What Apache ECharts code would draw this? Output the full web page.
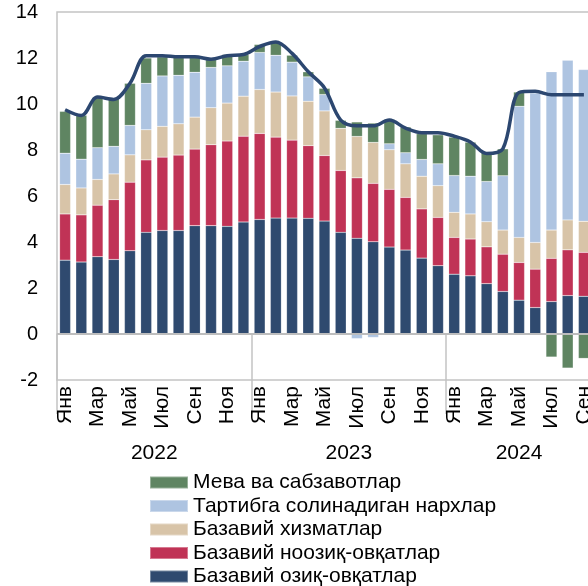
<!DOCTYPE html>
<html>
<head>
<meta charset="utf-8">
<script src="https://cdn.jsdelivr.net/npm/echarts@6/dist/echarts.min.js"></script>
<style>
  html, body { margin: 0; padding: 0; background: #fff; }
  #main { width: 588px; height: 586px; }
</style>
</head>
<body>
<div id="main"></div>
<script>
// oylar va yillar
var monthNames = ['Янв', 'Фев', 'Мар', 'Апр', 'Май', 'Июн', 'Июл', 'Авг', 'Сен', 'Окт', 'Ноя', 'Дек'];
var years = ['2022', '2023', '2024'];
var monthsPerYear = [12, 12, 9];

var yTicks = [-2, 0, 2, 4, 6, 8, 10, 12, 14];

// ulushlar (2022 yanv - 2024 sen)
var ozik = [3.21, 3.13, 3.36, 3.24, 3.62, 4.42, 4.50, 4.50, 4.71, 4.71, 4.68, 4.87,
            4.98, 5.04, 5.04, 5.03, 4.91, 4.42, 4.16, 4.01, 3.78, 3.65, 3.30, 2.97,
            2.60, 2.53, 2.19, 1.85, 1.47, 1.15, 1.41, 1.67, 1.64];
var noozik = [2.01, 2.05, 2.24, 2.60, 2.98, 3.15, 3.19, 3.28, 3.33, 3.52, 3.71, 3.73,
              3.74, 3.52, 3.39, 3.16, 2.85, 2.69, 2.63, 2.54, 2.51, 2.29, 2.14, 2.10,
              1.60, 1.60, 1.60, 1.62, 1.64, 1.67, 1.88, 1.99, 1.91];
var xizmat = [1.28, 1.17, 1.12, 1.12, 1.19, 1.31, 1.34, 1.36, 1.39, 1.61, 1.65, 1.74,
              1.91, 1.96, 1.92, 1.93, 1.94, 1.83, 1.80, 1.78, 1.72, 1.46, 1.42, 1.38,
              1.09, 1.09, 1.09, 1.05, 1.09, 1.16, 1.23, 1.30, 1.35];
var tartib = [1.36, 1.25, 1.38, 1.20, 1.28, 2.02, 2.19, 2.11, 1.95, 1.75, 1.62, 1.52,
              1.61, 1.60, 1.47, 1.06, 0.71, 0.00, -0.20, -0.15, 0.26, 0.48, 0.73, 0.95,
              1.60, 1.64, 1.75, 2.36, 5.70, 6.50, 6.88, 6.94, 6.60];
var meva = [1.82, 1.91, 2.18, 2.08, 1.83, 1.10, 0.83, 0.77, 0.64, 0.35, 0.49, 0.29,
            0.35, 0.58, 0.30, 0.22, 0.27, 0.35, 0.63, 0.84, 1.06, 1.12, 1.12, 1.26,
            1.67, 1.48, 1.28, 1.17, 0.62, 0.09, -1.00, -1.48, -1.06];
var inflyatsiya = [9.75, 9.5, 10.3, 10.2, 10.9, 12.1, 12.1, 12.05, 12.05, 11.95, 12.1, 12.15,
                   12.5, 12.7, 12.2, 11.4, 10.7, 9.3, 9.05, 9.05, 9.3, 8.95, 8.75, 8.75,
                   8.6, 8.35, 7.85, 8.05, 10.5, 10.55, 10.4, 10.4, 10.4];

var names = ['Базавий озиқ-овқатлар', 'Базавий ноозиқ-овқатлар', 'Базавий хизматлар',
             'Тартибга солинадиган нархлар', 'Мева ва сабзавотлар'];
var colors = ['#2f4a6f', '#c03356', '#d8c4a8', '#aec4e1', '#5f8562'];
var stacks = [ozik, noozik, xizmat, tartib, meva];

var categories = [];
years.forEach(function (y, i) {
    for (var m = 0; m < monthsPerYear[i]; m++) categories.push(monthNames[m]);
});
var total = categories.length;

// yil nomlari markazlari
var yearLabel = {};
var start = 0;
years.forEach(function (y, i) {
    yearLabel[(start + monthsPerYear[i] / 2).toFixed(1)] = y;
    start += monthsPerYear[i];
});

var font = 'Liberation Sans, Arial, sans-serif';

var series = stacks.map(function (d, i) {
    var s = {
        name: names[i],
        type: 'bar',
        stack: 'cpi',
        barWidth: 11,
        data: d,
        itemStyle: { color: colors[i], borderColor: 'rgba(255,255,255,0.35)', borderWidth: 0.5 },
        emphasis: { disabled: true }
    };
    if (i === 0) {
        s.markLine = {
            silent: true,
            symbol: 'none',
            label: { show: false },
            lineStyle: { color: '#bdbdbd', width: 2, type: 'solid' },
            data: [{ yAxis: 0 }]
        };
    }
    return s;
});
series.push({
    name: 'Инфляция',
    type: 'line',
    data: inflyatsiya,
    smooth: 0.35,
    symbol: 'none',
    lineStyle: { color: '#2c4770', width: 3.5 },
    z: 5
});

// legend ikki qismga (balandlikka sig'ishi uchun)
var legendNames = names.slice().reverse();
var legendBase = {
    orient: 'vertical',
    left: 149,
    padding: 0,
    itemWidth: 38, itemHeight: 12, itemGap: 2.5,
    icon: 'rect',
    textStyle: { fontFamily: font, fontSize: 21, color: '#000', lineHeight: 21 }
};

var myChart = echarts.init(document.getElementById('main'));
var option = {
    animation: false,
    grid: {
        left: 57, top: 12, width: 535, bottom: 206,
        outerBoundsMode: 'none',
        show: true, borderColor: '#c4c4c4', borderWidth: 1.5
    },
    legend: [
        Object.assign({}, legendBase, { top: 472, data: legendNames.slice(0, 4) }),
        Object.assign({}, legendBase, { top: 472 + 4 * 23.5, data: legendNames.slice(4) })
    ],
    xAxis: [{
        type: 'category',
        data: categories,
        boundaryGap: true,
        axisLine: { show: true, lineStyle: { color: '#c4c4c4', width: 1.5 } },
        axisTick: {
            show: true, length: 80,
            interval: function (i) { return i % 12 === 0; },
            lineStyle: { color: '#c4c4c4', width: 1.5 }
        },
        axisLabel: {
            interval: 1, rotate: 90, margin: 6,
            fontFamily: font, fontSize: 21, color: '#000'
        },
        splitLine: { show: false }
    }, {
        type: 'value',
        position: 'bottom',
        min: 0, max: total, interval: 0.5,
        axisLine: { show: false },
        axisTick: { show: false },
        splitLine: { show: false },
        axisLabel: {
            margin: 63,
            fontFamily: font, fontSize: 21, color: '#000',
            formatter: function (v) { return yearLabel[v.toFixed(1)] || ''; }
        }
    }],
    yAxis: {
        type: 'value',
        min: yTicks[0], max: yTicks[yTicks.length - 1], interval: 2,
        axisLine: { show: false },
        axisTick: { show: false },
        splitLine: { show: false },
        axisLabel: { margin: 19, fontFamily: font, fontSize: 20, color: '#000' }
    },
    series: series
};
myChart.setOption(option);
</script>
</body>
</html>
